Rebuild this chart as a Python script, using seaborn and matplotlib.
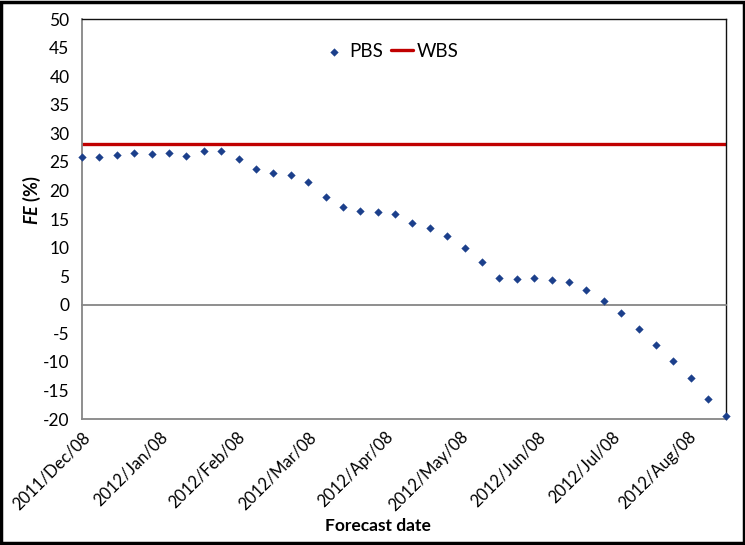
import numpy as np
import pandas as pd
import matplotlib
matplotlib.use("Agg")
import matplotlib.pyplot as plt
import matplotlib.dates as mdates
from matplotlib.patches import Rectangle
import seaborn as sns

# Weekly forecast dates and forecast error of the PBS scheme (%)
start_date = "2011-12-08"
n_weeks = 38
pbs_fe = [25.9, 25.8, 26.2, 26.5, 26.4, 26.5, 26.1, 27.0, 26.9, 25.6,
          23.8, 23.1, 22.8, 21.5, 18.9, 17.2, 16.5, 16.2, 15.9, 14.4,
          13.4, 12.0, 9.9, 7.5, 4.7, 4.5, 4.7, 4.4, 4.0, 2.6,
          0.7, -1.4, -4.3, -7.0, -9.8, -12.8, -16.5, -19.5]
# WBS forecast error (%), constant over the period
wbs_fe = 28.2

tick_dates = ["2011-12-08", "2012-01-08", "2012-02-08", "2012-03-08", "2012-04-08",
              "2012-05-08", "2012-06-08", "2012-07-08", "2012-08-08"]
tick_labels = ["2011/Dec/08", "2012/Jan/08", "2012/Feb/08", "2012/Mar/08", "2012/Apr/08",
               "2012/May/08", "2012/Jun/08", "2012/Jul/08", "2012/Aug/08"]
y_ticks = list(range(-20, 51, 5))

sns.set_theme(style="white")
plt.rcParams["font.family"] = ["Lato", "DejaVu Sans"]
plt.rcParams["text.color"] = "black"
plt.rcParams["xtick.color"] = "black"
plt.rcParams["ytick.color"] = "black"
plt.rcParams["mathtext.fontset"] = "custom"
plt.rcParams["mathtext.rm"] = "Lato:bold"
plt.rcParams["mathtext.it"] = "Lato:italic:bold"
plt.rcParams["mathtext.bf"] = "Lato:bold"

dates = pd.date_range(start_date, periods=n_weeks, freq="7D")
df = pd.DataFrame({"date": mdates.date2num(dates), "fe": pbs_fe})

fig = plt.figure(figsize=(7.45, 5.45), dpi=100)
ax = fig.add_axes([0.110, 0.231, 0.864, 0.734])

gray = "#868686"
navy = "#1B3F8B"
red = "#C00000"

ax.axhline(wbs_fe, color=red, lw=2.4, label="WBS", zorder=2)
sns.scatterplot(data=df, x="date", y="fe", ax=ax, marker="D", s=15,
                color=navy, edgecolor=navy, linewidth=0.3, label="PBS",
                zorder=3, clip_on=False)

ax.set_xlim(df["date"].iloc[0], df["date"].iloc[-1])
ax.set_ylim(-20, 50)
ax.set_yticks(y_ticks)
ax.set_yticklabels([str(v) for v in y_ticks], fontsize=12.5, color="black")
ax.tick_params(axis="y", length=5, width=1, color=gray, direction="out", pad=4)

# horizontal axis crosses at zero, with ticks hanging below it
tick_nums = mdates.date2num(pd.to_datetime(tick_dates))
ax.spines["bottom"].set_position(("data", 0))
ax.spines["bottom"].set_color(gray)
ax.spines["bottom"].set_linewidth(1.3)
ax.set_xticks(tick_nums)
ax.tick_params(axis="x", length=5, width=1, color=gray, direction="out",
               labelbottom=False)
ax.spines["left"].set_color(gray)
ax.spines["left"].set_linewidth(1.3)
for side in ("top", "right"):
    ax.spines[side].set_color("#111111")
    ax.spines[side].set_linewidth(1.0)

# date labels sit at the lower edge of the plot area
sec = ax.secondary_xaxis(0)
sec.set_xticks(tick_nums)
sec.set_xticklabels(tick_labels, rotation=45, ha="right",
                    rotation_mode="anchor", fontsize=12, color="black")
sec.tick_params(axis="x", length=0, pad=7)
sec.spines["bottom"].set_color(gray)
sec.spines["bottom"].set_linewidth(1.3)

ax.set_xlabel("")
ax.set_ylabel("")
fig.text(0.507, 0.035, "Forecast date", ha="center", va="center",
         fontsize=12.5, fontweight="bold", color="black")
fig.text(0.043, 0.633, r"$\mathit{FE}$ (%)", ha="center", va="center",
         rotation=90, fontsize=13, fontweight="bold", color="black")

handles, labels = ax.get_legend_handles_labels()
order = [labels.index("PBS"), labels.index("WBS")]
leg = ax.legend([handles[i] for i in order], [labels[i] for i in order],
                loc="center", bbox_to_anchor=(0.48, 0.92), ncol=2, frameon=False,
                fontsize=13.5, handlelength=1.2, handletextpad=0.2,
                columnspacing=0.4, markerscale=1.0)
for t in leg.get_texts():
    t.set_color("black")

fig.patches.append(Rectangle((0.002, 0.004), 0.996, 0.993, transform=fig.transFigure,
                             fill=False, edgecolor="black", linewidth=2.5))

fig.savefig("out.png", dpi=100)
